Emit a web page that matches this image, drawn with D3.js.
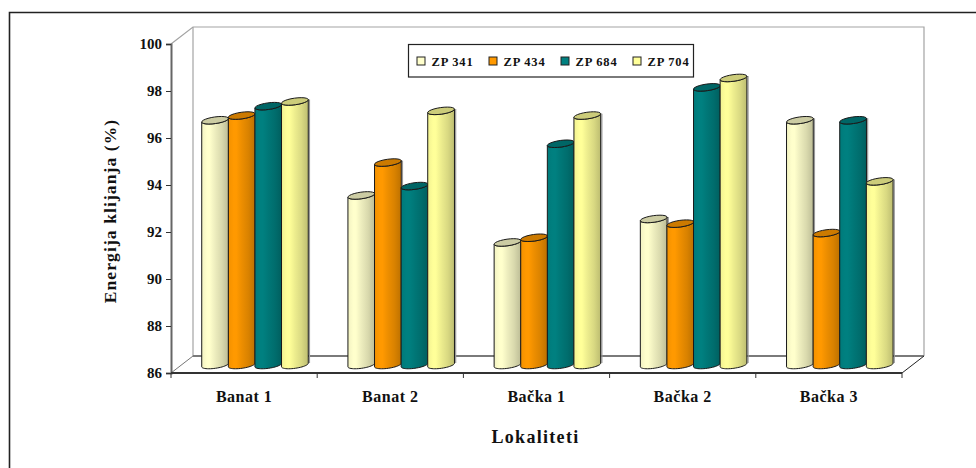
<!DOCTYPE html>
<html><head><meta charset="utf-8">
<script src="https://cdn.jsdelivr.net/npm/d3@7"></script>
<style>
html,body{margin:0;padding:0;background:#fff}
svg{display:block}
text{font-family:"Liberation Serif",serif;font-weight:bold;fill:#111}
</style></head><body>
<svg id="c" width="976" height="468"></svg>
<script>
const categories=["Banat 1","Banat 2","Bačka 1","Bačka 2","Bačka 3"];
const seriesNames=["ZP 341","ZP 434","ZP 684","ZP 704"];
const zp341=[96.5,93.3,91.3,92.3,96.5];
const zp434=[96.7,94.7,91.5,92.1,91.7];
const zp684=[97.1,93.7,95.5,97.9,96.5];
const zp704=[97.3,96.9,96.7,98.3,93.9];
const seriesValues=[zp341,zp434,zp684,zp704];
const yTicks=[86,88,90,92,94,96,98,100];
const baseColors=["#FFFFCC","#FF9900","#008080","#FFFF99"];

const svg=d3.select("#c");
const L=171,R=902,T=44,B=373,DX=22,DY=17;
const x=d3.scaleBand().domain(categories).range([L,R]);
const y=d3.scaleLinear().domain([86,100]).range([B,T]);
const barW=27;
const sx=d3.scaleBand().domain(seriesNames).range([0,106.4]);

// frame (cropped on right and bottom)
svg.append("path").attr("d","M9.5,468V12.5H976").attr("fill","none").attr("stroke","#222").attr("stroke-width",1.6);

// walls
const wall=svg.append("g").attr("fill","none");
wall.append("path").attr("d",`M${L},${T}L${L+DX},${T-DY}H${R+DX}V${B-DY}`).attr("stroke","#a3a3a3").attr("stroke-width",1.2);
wall.append("path").attr("d",`M${L+DX},${T-DY}V${B-DY}`).attr("stroke","#a3a3a3").attr("stroke-width",1.2);
wall.append("path").attr("d",`M${L+DX},${B-DY}H${R+DX}`).attr("stroke","#7a7a7a").attr("stroke-width",2);
wall.append("path").attr("d",`M${L},${B}L${L+DX},${B-DY}`).attr("stroke","#777").attr("stroke-width",1);
wall.append("path").attr("d",`M${R},${B}L${R+DX},${B-DY}`).attr("stroke","#222").attr("stroke-width",1);

// gradients
const defs=svg.append("defs");
const stops=[[0,0.95],[0.2,1.0],[0.3,1.0],[0.5,0.93],[0.75,0.85],[1,0.74]];
baseColors.forEach((c,i)=>{
  const g=defs.append("linearGradient").attr("id","g"+i).attr("x1",0).attr("x2",1).attr("y1",0).attr("y2",0);
  stops.forEach(([o,f])=>{
    const col=d3.rgb(c);
    g.append("stop").attr("offset",o).attr("stop-color",d3.rgb(col.r*f,col.g*f,col.b*f).formatHex());
  });
});

// bars
const topShift=6, baseShift=8, xShift=11, rx=barW/2, ry=3.3, rot=-8;
const rad=rot*Math.PI/180;
const line=d3.line();
const ell=(cx,cy,a0,a1)=>d3.range(0,25).map(k=>{
  const a=a0+(a1-a0)*k/24;
  const px=rx*Math.cos(a), py=ry*Math.sin(a);
  return [cx+px*Math.cos(rad)-py*Math.sin(rad), cy+px*Math.sin(rad)+py*Math.cos(rad)];
});
categories.forEach((cat,ci)=>{
  const g=svg.append("g");
  seriesNames.forEach((s,si)=>{
    const v=seriesValues[si][ci];
    const cx=x(cat)+x.bandwidth()/2-53.2+xShift+sx(s)+barW/2-0.3;
    const yt=y(v)-topShift, yb=y(86)-baseShift;
    // body: upper edge is the front half of the top ellipse, lower edge the front half of the base
    const topFront=ell(cx,yt,Math.PI,0);
    const baseFront=ell(cx,yb,0,Math.PI);
    const body=line(topFront.concat(baseFront))+"Z";
    const rEnd=topFront[24], rBase=baseFront[0];
    g.append("path").attr("d",`M${rEnd[0]+1.2},${rEnd[1]}L${rBase[0]+1.2},${rBase[1]}`).attr("stroke","#999").attr("stroke-width",1.2).attr("fill","none");
    g.append("path").attr("d",body).attr("fill",`url(#g${si})`).attr("stroke","#1a1a1a").attr("stroke-width",1);
    const col=d3.rgb(baseColors[si]);
    g.append("path").attr("d",line(ell(cx,yt,0,2*Math.PI))+"Z")
      .attr("fill",d3.rgb(col.r*0.8,col.g*0.8,col.b*0.8).formatHex()).attr("stroke","#1a1a1a").attr("stroke-width",1);
  });
});

// axes
const yAxis=svg.append("g").attr("transform",`translate(${L},0)`)
  .call(d3.axisLeft(y).tickValues(yTicks).tickSize(5).tickPadding(4).tickFormat(d3.format("d")));
yAxis.select(".domain").attr("stroke","#666").attr("stroke-width",2);
yAxis.selectAll("line").attr("stroke","#333");
yAxis.selectAll("text").attr("font-size",15).style("font-weight","bold").style("font-family","Liberation Serif");

const xAxis=svg.append("g").attr("transform",`translate(0,${B})`)
  .call(d3.axisBottom(x).tickSize(0).tickPadding(0));
xAxis.select(".domain").attr("stroke","#333").attr("stroke-width",2).attr("d",`M${L},0H${R}`);
xAxis.selectAll("text").attr("y",29).attr("dy",0).attr("font-size",16).attr("letter-spacing",0.5).style("font-weight","bold").style("font-family","Liberation Serif");
const edges=categories.map(c=>x(c)).concat([R]);
svg.append("g").selectAll("line").data(edges).join("line")
  .attr("x1",d=>d).attr("x2",d=>d).attr("y1",B).attr("y2",B+5).attr("stroke","#333");

// titles
svg.append("text").attr("transform","translate(116,211) rotate(-90)").attr("text-anchor","middle")
  .attr("font-size",17.5).attr("letter-spacing",1.1).text("Energija klijanja (%)");
svg.append("text").attr("x",535.5).attr("y",443).attr("text-anchor","middle")
  .attr("font-size",18).attr("letter-spacing",1.3).text("Lokaliteti");

// legend
svg.append("rect").attr("x",408.5).attr("y",44.5).attr("width",285).attr("height",32.5)
  .attr("fill","#fff").attr("stroke","#222").attr("stroke-width",1.2);
const lx=d3.scalePoint().domain(seriesNames).range([417,633]);
seriesNames.forEach((s,i)=>{
  svg.append("rect").attr("x",lx(s)).attr("y",57).attr("width",8).attr("height",8)
    .attr("fill",baseColors[i]).attr("stroke","#222");
  svg.append("text").attr("x",lx(s)+14.5).attr("y",65.5).attr("font-size",12.5).attr("letter-spacing",0.8).text(s);
});
</script>
</body></html>
